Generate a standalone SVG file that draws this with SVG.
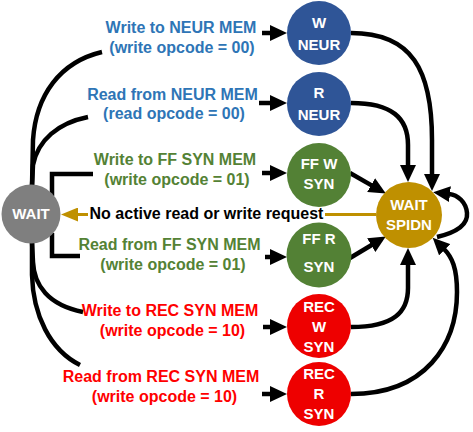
<svg xmlns="http://www.w3.org/2000/svg" width="473" height="432" viewBox="0 0 473 432">
<defs>
<style>
.lbl{font-family:"Liberation Sans",Arial,sans-serif;font-weight:bold;font-size:16px;text-anchor:middle}
.nt{font-family:"Liberation Sans",Arial,sans-serif;font-weight:bold;font-size:15px;text-anchor:middle;fill:#ffffff}
.blue{fill:#2E75B6}.green{fill:#548235}.red{fill:#FF0000}
.c{fill:none;stroke:#000;stroke-width:4.5}
.ca{fill:none;stroke:#000;stroke-width:4.5;marker-end:url(#ah)}
.g{fill:none;stroke:#BF9000;stroke-width:3}
</style>
<marker id="ah" markerUnits="userSpaceOnUse" markerWidth="17" markerHeight="16" viewBox="0 0 17 16" refX="1" refY="8" orient="auto"><path d="M0,0 L17,8 L0,16 z" fill="#000"/></marker>
<marker id="ahg" markerUnits="userSpaceOnUse" markerWidth="17" markerHeight="14" viewBox="0 0 17 14" refX="1" refY="7" orient="auto"><path d="M0,0 L17,7 L0,14 z" fill="#BF9000"/></marker>
</defs>
<rect width="473" height="432" fill="#ffffff"/>

<g id="connectors">
<path class="c" d="M102,52 C60,62 36,95 33,140 L32,186"/>
<path class="c" d="M88,117 C58,123 38,140 33,165 L32,186"/>
<path class="c" d="M93,174 L52,174 L52,196"/>
<path class="c" d="M52,233 L52,256 L80,256"/>
<path class="c" d="M32,242 L33,262 C34,285 48,305 83,312"/>
<path class="c" d="M32,242 L32,275 C33,315 50,350 80,365"/>
<path class="ca" d="M262,33 L271,33"/>
<path class="ca" d="M259,103 L271,103"/>
<path class="ca" d="M262,173 L271,173"/>
<path class="ca" d="M265,257 L271,257"/>
<path class="ca" d="M263,327 L271,327"/>
<path class="ca" d="M262,394 L271,394"/>
<path class="ca" d="M351,33 C412,33 432,70 432,140 L432,175"/>
<path class="ca" d="M351,103 C392,103 408,118 408,145 L408,166"/>
<path class="ca" d="M350,173 L372,185.6"/>
<path class="ca" d="M350,258 L372.1,244.7"/>
<path class="ca" d="M351,327 C394,327 408,312 408,288 L408,264"/>
<path class="ca" d="M351,394 C425,394 457,345 457,292 C457,268 452,257 444,249"/>
<path class="ca" d="M437,237 C458,232 468,224 467,213 C466,202 458,195 449,194"/>
<path class="g" d="M325,214.5 L376,214.5"/>
<path class="g" d="M88,214.5 L77,214.5" marker-end="url(#ahg)"/>
</g>

<g id="labels">
<text class="lbl blue" x="181" y="33">Write to NEUR MEM</text>
<text class="lbl blue" x="182" y="53">(write opcode = 00)</text>
<text class="lbl blue" x="172.5" y="100">Read from NEUR MEM</text>
<text class="lbl blue" x="174" y="119">(read opcode = 00)</text>
<text class="lbl green" x="175" y="165">Write to FF SYN MEM</text>
<text class="lbl green" x="177" y="185">(write opcode = 01)</text>
<text class="lbl" x="206.5" y="219" fill="#000">No active read or write request</text>
<text class="lbl green" x="169.5" y="250">Read from FF SYN MEM</text>
<text class="lbl green" x="173" y="270">(write opcode = 01)</text>
<text class="lbl red" x="170" y="316">Write to REC SYN MEM</text>
<text class="lbl red" x="172.5" y="336">(write opcode = 10)</text>
<text class="lbl red" x="161" y="382">Read from REC SYN MEM</text>
<text class="lbl red" x="164.5" y="402">(write opcode = 10)</text>
</g>

<g id="wait">
<circle cx="31" cy="214" r="29.5" fill="#7F7F7F"/>
<text class="nt" x="31" y="219">WAIT</text>
</g>
<g id="w_neur">
<circle cx="319" cy="33" r="32" fill="#2F5597"/>
<text class="nt" x="319" y="28">W</text>
<text class="nt" x="319" y="50">NEUR</text>
</g>
<g id="r_neur">
<circle cx="319" cy="104" r="32" fill="#2F5597"/>
<text class="nt" x="319" y="98">R</text>
<text class="nt" x="319" y="120">NEUR</text>
</g>
<g id="ff_w_syn">
<circle cx="319" cy="175" r="32" fill="#538135"/>
<text class="nt" x="319" y="169">FF W</text>
<text class="nt" x="319" y="189">SYN</text>
</g>
<g id="ff_r_syn">
<circle cx="319" cy="255" r="32.5" fill="#538135"/>
<text class="nt" x="319" y="244">FF R</text>
<text class="nt" x="319" y="272">SYN</text>
</g>
<g id="rec_w_syn">
<circle cx="319" cy="326" r="32" fill="#EE0000"/>
<text class="nt" x="319" y="312">REC</text>
<text class="nt" x="319" y="332">W</text>
<text class="nt" x="319" y="352">SYN</text>
</g>
<g id="rec_r_syn">
<circle cx="319" cy="394" r="32" fill="#EE0000"/>
<text class="nt" x="319" y="379">REC</text>
<text class="nt" x="319" y="399">R</text>
<text class="nt" x="319" y="419">SYN</text>
</g>
<g id="wait_spidn">
<circle cx="409" cy="215" r="33" fill="#BF9000"/>
<text class="nt" x="409" y="210">WAIT</text>
<text class="nt" x="409" y="230">SPIDN</text>
</g>
</svg>
